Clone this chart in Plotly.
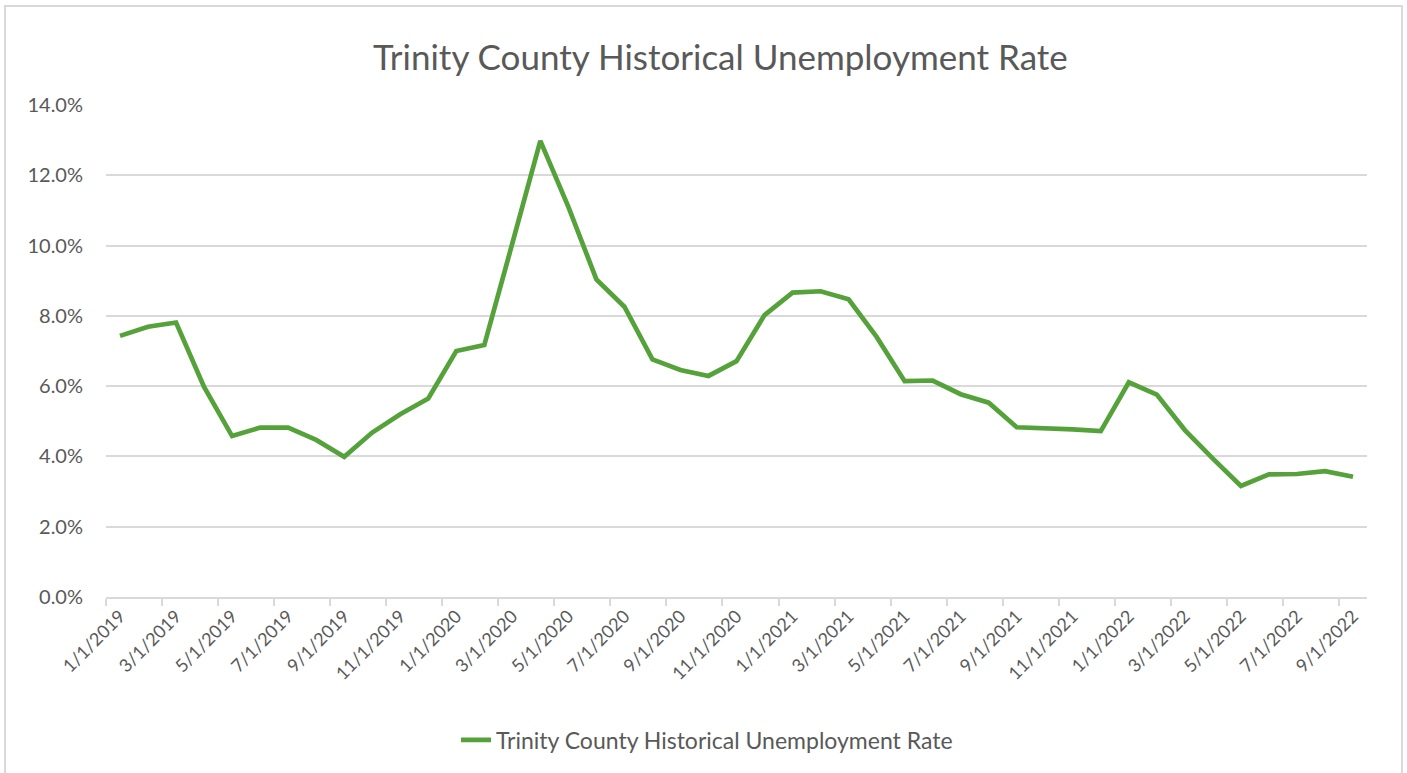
import plotly.graph_objects as go

months = [f"{m}/1/{y}" for y in (2019, 2020, 2021, 2022) for m in range(1, 13)][:45]
rates = [7.43, 7.69, 7.81, 5.98, 4.58, 4.82, 4.82, 4.47, 3.99, 4.68, 5.20, 5.65,
         7.00, 7.17, 10.06, 12.98, 11.10, 9.04, 8.26, 6.76, 6.46, 6.29, 6.71, 8.02,
         8.66, 8.70, 8.47, 7.40, 6.14, 6.16, 5.77, 5.53, 4.83, 4.81, 4.77, 4.72,
         6.11, 5.76, 4.75, 3.94, 3.16, 3.49, 3.50, 3.58, 3.42]
series_name = "Trinity County Historical Unemployment Rate"
title_text = "Trinity County Historical Unemployment Rate"

idx = list(range(len(months)))
values = [r / 100 for r in rates]

W, H = 1407, 773
L, R, T, B = 106, 40, 105, 176
pw, ph = W - L - R, H - T - B

font_fam = "Lato, 'Open Sans', sans-serif"
txt = "#595959"
grid = "#d9d9d9"

fig = go.Figure()
fig.add_trace(go.Scatter(
    x=idx, y=values, mode="lines", name=series_name,
    line=dict(color="#55A23B", width=4.7),
))

fig.update_layout(
    width=W, height=H,
    margin=dict(l=L, r=R, t=T, b=B),
    paper_bgcolor="white", plot_bgcolor="white",
    title=dict(text=title_text, x=0.512, xanchor="center", y=1 - 58 / H, yanchor="middle",
               font=dict(family=font_fam, size=35, color=txt)),
    showlegend=True,
    legend=dict(orientation="h", x=(707 - L) / pw, xanchor="center", y=-(740 - 597) / ph, yanchor="middle",
                font=dict(family=font_fam, size=23, color=txt)),
    font=dict(family=font_fam, color=txt),
)

fig.update_xaxes(
    range=[-0.5, len(months) - 0.5],
    tickmode="array", tickvals=idx[::2], ticktext=months[::2],
    tickangle=-45, ticks="", showgrid=False,
    tickfont=dict(family=font_fam, size=18, color=txt),
    showline=True, linecolor=grid, linewidth=1.5,
    minor=dict(tick0=-0.5, dtick=2, ticks="outside", ticklen=7, tickcolor=grid, tickwidth=1.5, showgrid=False),
    zeroline=False,
)
fig.update_yaxes(
    range=[0, 0.14], tickmode="linear", tick0=0, dtick=0.02, tickformat=".1%",
    showgrid=True, gridcolor=grid, gridwidth=1.5, zeroline=False, showline=False,
    tickfont=dict(family=font_fam, size=20, color=txt), ticklabelstandoff=22,
)

# chart border
fig.add_shape(type="rect", xref="paper", yref="paper",
              x0=(5 - L) / pw, x1=(1402 - L) / pw,
              y0=(597 - 800) / ph, y1=(597 - 6) / ph,
              line=dict(color=grid, width=2), fillcolor="rgba(0,0,0,0)", layer="below")

fig.write_html("out.html", config={"displayModeBar": False},
               post_script="document.body.style.margin='0';")
